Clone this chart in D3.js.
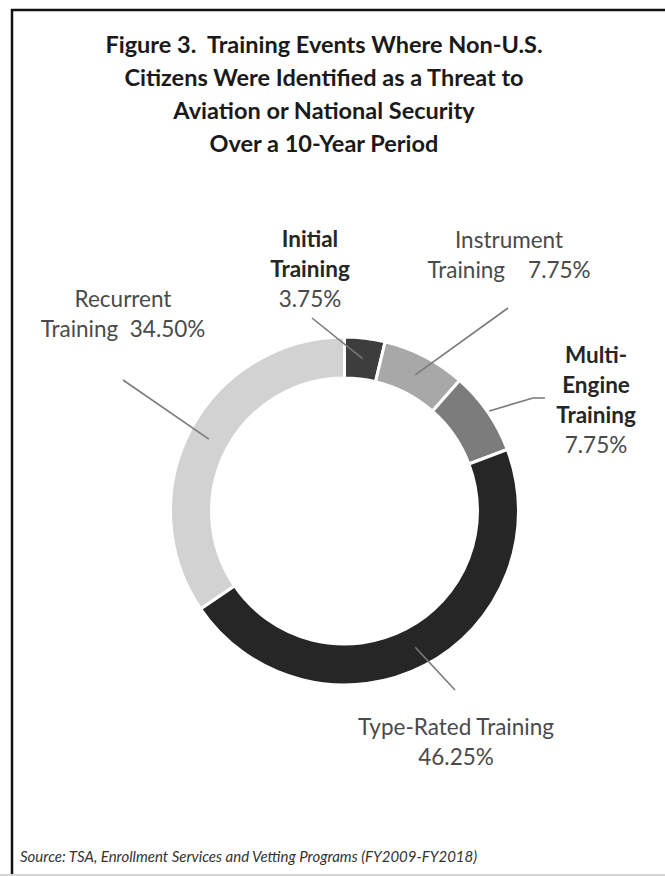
<!DOCTYPE html>
<html lang="en">
<meta charset="utf-8">
<head>
    <script src='https://d3js.org/d3.v7.min.js'></script>
    <style>
        body { margin: 0; background: #fff; }
        svg text { font-family: Lato, 'Open Sans', sans-serif; white-space: pre; }
    </style>
</head>
<body>
</body>

<script>
    var width = 665, height = 876;

    // data
    var categories = ['Initial Training', 'Instrument Training', 'Multi-Engine Training', 'Type-Rated Training', 'Recurrent Training'];
    var shares = [3.75, 7.75, 7.75, 46.25, 34.50];
    var shades = ['#3d3d3d', '#a8a8a8', '#7c7c7c', '#262626', '#d2d2d2'];
    var titleLines = ['Figure 3.  Training Events Where Non-U.S.', 'Citizens Were Identified as a Threat to', 'Aviation or National Security', 'Over a 10-Year Period'];
    var source = 'Source: TSA, Enrollment Services and Vetting Programs (FY2009-FY2018)';

    var svg = d3.select('body').append('svg').attr('width', width).attr('height', height);

    // frame (top + left black, light bottom edge)
    svg.append('line').attr('x1', 11).attr('x2', width).attr('y1', 10).attr('y2', 10)
        .attr('stroke', '#111').attr('stroke-width', 2.5);
    svg.append('line').attr('x1', 12).attr('x2', 12).attr('y1', 9).attr('y2', 874)
        .attr('stroke', '#111').attr('stroke-width', 2.5);
    svg.append('line').attr('x1', 0).attr('x2', width).attr('y1', 875).attr('y2', 875)
        .attr('stroke', '#d6d6d6').attr('stroke-width', 2);

    // title
    svg.append('g').selectAll('text')
        .data(titleLines)
        .join('text')
        .attr('x', 324)
        .attr('y', function(d, i) { return 53 + i * 33; })
        .attr('text-anchor', 'middle')
        .attr('font-size', 23.5)
        .attr('font-weight', 'bold')
        .attr('fill', '#1a1a1a')
        .text(function(d) { return d; });

    // donut
    var cx = 344.5, cy = 511, rOuter = 174, rInner = 133;
    var pie = d3.pie().sort(null).value(function(d) { return d; });
    var arcs = pie(shares);
    var arc = d3.arc().innerRadius(rInner).outerRadius(rOuter);
    var edge = d3.arc().innerRadius(rOuter + 2).outerRadius(rOuter + 2);

    var g = svg.append('g').attr('transform', 'translate(' + cx + ',' + cy + ')');
    g.selectAll('path')
        .data(arcs)
        .join('path')
        .attr('d', arc)
        .attr('fill', function(d, i) { return shades[i]; })
        .attr('stroke', '#fff')
        .attr('stroke-width', 3);

    // label layout, one per slice
    var labelSpecs = [
        { lines: ['Initial', 'Training', '3.75%'], bold: [true, true, false], x: 310, y: 247, from: [312, 318] },
        { lines: ['Instrument', 'Training    7.75%'], bold: [false, false], x: 509, y: 248, from: [508, 308] },
        { lines: ['Multi-', 'Engine', 'Training', '7.75%'], bold: [true, true, true, false], x: 596, y: 363, from: [545, 398], elbow: [533, 398], outer: true },
        { lines: ['Type-Rated Training', '46.25%'], bold: [false, false], x: 456, y: 735, from: [455, 690] },
        { lines: ['Recurrent', 'Training  34.50%'], bold: [false, false], x: 123, y: 307, from: [123, 380] }
    ];

    var leaders = svg.append('g').attr('fill', 'none').attr('stroke', '#7a7a7a').attr('stroke-width', 1.6);
    arcs.forEach(function(a, i) {
        var s = labelSpecs[i];
        var c = s.outer ? edge.centroid(a) : arc.centroid(a);
        var pts = [s.from];
        if (s.elbow) pts.push(s.elbow);
        pts.push([cx + c[0], cy + c[1]]);
        leaders.append('path').attr('d', d3.line()(pts));
    });

    var labels = svg.append('g');
    labelSpecs.forEach(function(s, i) {
        labels.append('g').selectAll('text')
            .data(s.lines)
            .join('text')
            .attr('x', s.x)
            .attr('y', function(d, j) { return s.y + j * 30; })
            .attr('text-anchor', 'middle')
            .attr('font-size', 22.5)
            .attr('font-weight', function(d, j) { return s.bold[j] ? 'bold' : 'normal'; })
            .attr('fill', function(d, j) { return s.bold[j] ? '#262626' : '#4a4a4a'; })
            .text(function(d) { return d; });
    });

    // source note
    svg.append('text')
        .attr('x', 20)
        .attr('y', 862)
        .attr('font-size', 15)
        .attr('font-style', 'italic')
        .attr('fill', '#333')
        .text(source);

    console.log('ready..');
</script>
